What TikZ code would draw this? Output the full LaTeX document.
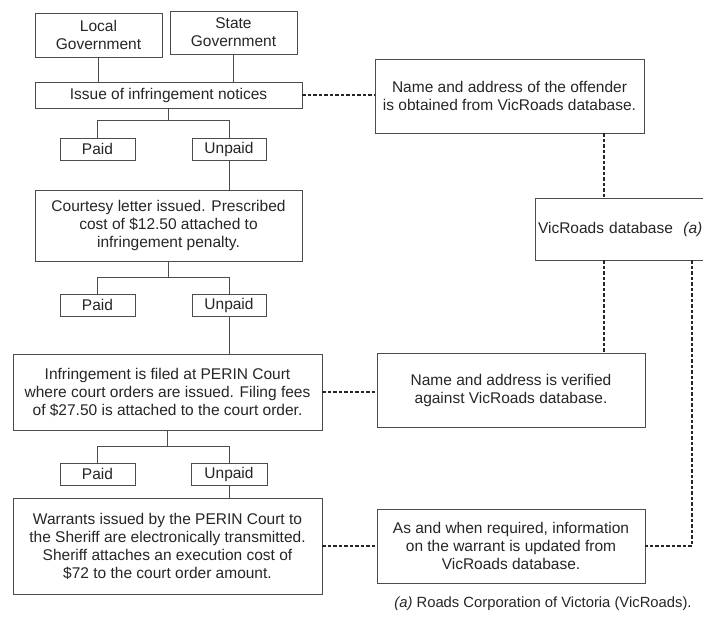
\documentclass[tikz,border=0pt]{standalone}
\usepackage{fontspec}
\setmainfont{Liberation Sans}
\begin{document}
\begin{tikzpicture}[x=1pt,y=-1pt,
  every node/.style={text=black!85},
  box/.style={draw=black!70, line width=0.7pt, inner sep=0pt, align=center,
    font=\fontsize{15.5}{18}\selectfont},
  conn/.style={draw=black!70, line width=0.7pt},
  dotline/.style={draw=black!85, line width=1.3pt, dash pattern=on 3.5pt off 2pt}]
\useasboundingbox (0,0) rectangle (703,617);
\clip (0,0) rectangle (703,617);
\fill[white] (0,0) rectangle (703,617);

% left column
\node[box, minimum width=127pt, minimum height=44pt] (lg) at (98.5,35) {Local\\Government};
\node[box, minimum width=127pt, minimum height=43pt] (sg) at (233.5,32.5) {State\\Government};
\node[box, minimum width=267pt, minimum height=26pt] (issue) at (168.5,95) {Issue of infringement notices};
\node[box, minimum width=75pt, minimum height=22pt] (paid1) at (97.5,149) {Paid};
\node[box, minimum width=74pt, minimum height=22pt] (unpaid1) at (229,149) {Unpaid};
\node[box, minimum width=267pt, minimum height=71pt] (court) at (168.5,225.5) {Courtesy letter issued. Prescribed\\cost of \$12.50 attached to\\infringement penalty.};
\node[box, minimum width=75pt, minimum height=22pt] (paid2) at (97.5,305) {Paid};
\node[box, minimum width=74pt, minimum height=22pt] (unpaid2) at (229,305) {Unpaid};
\node[box, minimum width=309pt, minimum height=76pt] (perin) at (167.5,392) {Infringement is filed at PERIN Court\\where court orders are issued. Filing fees\\of \$27.50 is attached to the court order.};
\node[box, minimum width=75pt, minimum height=22pt] (paid3) at (97.5,474) {Paid};
\node[box, minimum width=76pt, minimum height=22pt] (unpaid3) at (229,474) {Unpaid};
\node[box, minimum width=309pt, minimum height=96pt] (warrant) at (167.5,546) {Warrants issued by the PERIN Court to\\the Sheriff are electronically transmitted.\\Sheriff attaches an execution cost of\\\$72 to the court order amount.};

% right column
\node[box, minimum width=269pt, minimum height=74pt] (name1) at (509.5,96) {Name and address of the offender\\is obtained from VicRoads database.};
\node[box, minimum width=180pt, minimum height=62pt, text width=174pt, align=left] (vic) at (625,229) {VicRoads database\ \ \textit{(a)}};
\node[box, minimum width=268pt, minimum height=74pt] (name2) at (511,390) {Name and address is verified\\against VicRoads database.};
\node[box, minimum width=268pt, minimum height=74pt] (info) at (511,546) {As and when required, information\\on the warrant is updated from\\VicRoads database.};
\node[font=\fontsize{14.8}{16}\selectfont, anchor=north] (foot) at (543,593) {\textit{(a)} Roads Corporation of Victoria (VicRoads).};

% solid connectors
\draw[conn] (lg.south) -- (lg.south |- issue.north);
\draw[conn] (sg.south) -- (sg.south |- issue.north);
\draw[conn] (issue.south) -- ++(0,12) coordinate (j1);
\draw[conn] (paid1.north) |- (j1) -| (unpaid1.north);
\draw[conn] (unpaid1.south) -- (unpaid1.south |- court.north);
\draw[conn] (court.south) -- ++(0,16.5) coordinate (j2);
\draw[conn] (paid2.north) |- (j2) -| (unpaid2.north);
\draw[conn] (unpaid2.south) -- (unpaid2.south |- perin.north);
\draw[conn] (perin.south) -- ++(0,16) coordinate (j3);
\draw[conn] (paid3.north) |- (j3) -| (unpaid3.north);
\draw[conn] (unpaid3.south) -- (unpaid3.south |- warrant.north);

% dashed connectors
\coordinate (v1) at (604,0);
\coordinate (v2) at (692,0);
\draw[dotline] (issue.east) -- (issue.east -| name1.west);
\draw[dotline] (name1.south -| v1) -- (vic.north -| v1);
\draw[dotline] (vic.south -| v1) -- (name2.north -| v1);
\draw[dotline] (perin.east) -- (perin.east -| name2.west);
\draw[dotline] (warrant.east) -- (warrant.east -| info.west);
\draw[dotline] (vic.south -| v2) |- (info.east);
\end{tikzpicture}
\end{document}
